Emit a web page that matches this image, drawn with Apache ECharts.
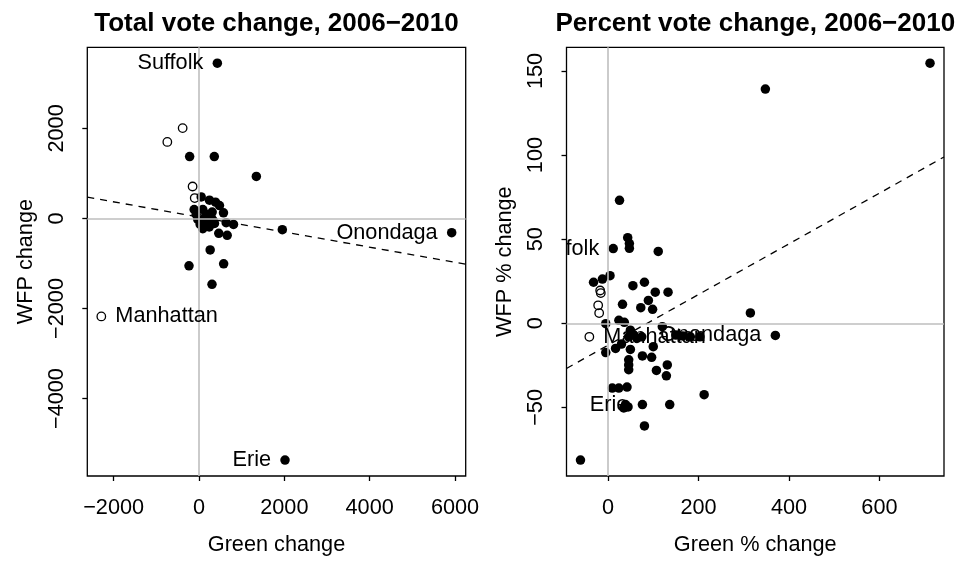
<!DOCTYPE html>
<html><head><meta charset="utf-8">
<script src="https://cdn.jsdelivr.net/npm/echarts@6/dist/echarts.min.js"></script>
<style>html,body{margin:0;padding:0;background:#fff}#c{width:966px;height:561px}</style>
</head><body><div id="c"></div>
<script>
const leftTitle = 'Total vote change, 2006\u22122010';
const rightTitle = 'Percent vote change, 2006\u22122010';
const leftXName = 'Green change', leftYName = 'WFP change';
const rightXName = 'Green % change', rightYName = 'WFP % change';
const leftXTicks = [-2000, 0, 2000, 4000, 6000];
const leftYTicks = [-4000, -2000, 0, 2000];
const rightXTicks = [0, 200, 400, 600];
const rightYTicks = [-50, 0, 50, 100, 150];

const leftFilled = [[430,3449],[-219,1375],[359,1375],[1344,934],[52,479],[246,406],[387,362],[480,287],[574,126],[-113,199],[89,199],[309,141],[183,88],[-66,88],[129,-22],[286,15],[-28,-22],[28,-132],[89,-227],[206,-95],[363,-110],[637,-95],[809,-132],[464,-331],[661,-375],[150,40],[40,-70],[240,-190],[120,-150],[330,-40],[1953,-250],[262,-698],[-234,-1051],[578,-1007],[305,-1463],[5922,-316],[2016,-5368]];
const leftOpen = [[-383,2007],[-742,1699],[-150,710],[-100,453],[-2289,-2176]];
const leftLabels = [[430,3449,'Suffolk','left'],[5922,-316,'Onondaga','left'],[-2289,-2176,'Manhattan','right'],[2016,-5368,'Erie','left']];
const leftFit = [33, -0.1676];

const rightFilled = [[711.8,154.6],[347.8,139.2],[25.4,73.1],[43.5,50.9],[47.2,47.4],[47.2,44.6],[11.5,44.4],[111,42.7],[4.4,28.3],[-12.4,26.3],[-32,24.4],[55,22.4],[80.5,24.4],[104.4,18.5],[132.7,18.5],[89.2,13.6],[32,11.3],[72.4,9.3],[98.5,8.3],[314.7,6.2],[24,1.8],[36,0.6],[-5,-0.2],[49.4,-4.1],[120,-2],[45.7,-8],[56.5,-7],[63.8,-9],[74.6,-8],[150,-7],[165,-7.5],[182,-8],[203,-8],[369.9,-7.2],[16.7,-14.9],[29.8,-12.3],[49.4,-15.5],[-5,-17.4],[100,-13.9],[76,-19.4],[96.4,-20.2],[45.7,-21.7],[45.7,-24.7],[45.7,-27.6],[107,-28],[131,-24.7],[129,-31.2],[9.4,-38.5],[23.9,-38.5],[42,-37.9],[212.5,-42.4],[38.5,-48.3],[44.2,-49.7],[34.8,-50.3],[76,-48.3],[136.4,-48.3],[80.5,-61],[-60.9,-81.3]];
const rightOpen = [[-17.4,19.5],[-16,18],[-21.8,10.7],[-19.6,6.1],[-41.3,-8]];
const rightLabels = [[11.5,44.4,'Suffolk','left'],[369.9,-7.2,'Onondaga','left'],[-41.3,-8,'Manhattan','right'],[76,-48.3,'Erie','left']];
const rightFit = [-13, 0.1506];

const FONT = '"Liberation Sans", Arial, Helvetica, sans-serif';
const FS = 21.7;

function ext(pts, i) {
  const v = pts.map(p => p[i]);
  const mn = Math.min(...v), mx = Math.max(...v), r = mx - mn;
  return [mn - 0.04 * r, mx + 0.04 * r];
}
const fmt = v => String(v).replace('-', '\u2212');

function axis(kind, gi, range, ticks, name) {
  const isY = kind === 'y';
  return {
    type: 'value', gridIndex: gi, min: range[0], max: range[1],
    name: name, nameLocation: 'middle', nameGap: isY ? 50 : 58,
    nameTextStyle: {fontSize: FS, fontFamily: FONT, color: '#000'},
    axisLine: {show: false, onZero: false},
    splitLine: {show: false},
    axisTick: {show: true, length: 5, customValues: ticks, lineStyle: {color: '#000', width: 1.3}},
    axisLabel: {customValues: ticks, formatter: fmt, fontSize: FS, fontFamily: FONT, color: '#000',
      margin: isY ? 19 : 21, rotate: isY ? 90 : 0}
  };
}

function labelSeries(gi, labels) {
  return {
    type: 'custom', xAxisIndex: gi, yAxisIndex: gi, clip: true, z: 10, silent: true,
    data: labels.map(l => [l[0], l[1]]),
    renderItem(params, api) {
      const l = labels[params.dataIndex];
      const p = api.coord([api.value(0), api.value(1)]);
      const left = l[3] === 'left';
      return {type: 'text', x: p[0] + (left ? -14 : 14), y: p[1],
        style: {text: l[2], fill: '#000', fontSize: FS, fontFamily: FONT,
          align: left ? 'right' : 'left', textAlign: left ? 'right' : 'left',
          verticalAlign: 'middle', textVerticalAlign: 'middle'}};
    }
  };
}

function fitSeries(gi, fit, xr) {
  return {
    type: 'line', xAxisIndex: gi, yAxisIndex: gi, z: 4, silent: true, symbol: 'none',
    data: [[xr[0], fit[0] + fit[1] * xr[0]], [xr[1], fit[0] + fit[1] * xr[1]]],
    lineStyle: {color: '#000', width: 1.3, type: [7, 6]},
    markLine: {silent: true, symbol: 'none', label: {show: false},
      lineStyle: {color: '#bebebe', type: 'solid', width: 1.6},
      data: [{xAxis: 0}, {yAxis: 0}]}
  };
}

function pts(gi, data, open) {
  return {
    type: 'scatter', xAxisIndex: gi, yAxisIndex: gi, z: 2, silent: true,
    symbol: 'circle', symbolSize: open ? 8.5 : 9.5, data: data,
    itemStyle: open ? {color: 'rgba(0,0,0,0)', borderColor: '#000', borderWidth: 1.3, opacity: 1}
                    : {color: '#000', opacity: 1}
  };
}

const lxr = ext(leftFilled.concat(leftOpen), 0), lyr = ext(leftFilled.concat(leftOpen), 1);
const rxr = ext(rightFilled.concat(rightOpen), 0), ryr = ext(rightFilled.concat(rightOpen), 1);

const chart = echarts.init(document.getElementById('c'), null, {renderer: 'canvas'});
chart.setOption({
  animation: false,
  backgroundColor: '#fff',
  title: [
    {text: leftTitle, left: 276.5, top: 11, textAlign: 'center', padding: 0,
      textStyle: {fontSize: 26, fontWeight: 'bold', fontFamily: FONT, color: '#000'}},
    {text: rightTitle, left: 755.3, top: 11, textAlign: 'center', padding: 0,
      textStyle: {fontSize: 26, fontWeight: 'bold', fontFamily: FONT, color: '#000'}}
  ],
  grid: [
    {left: 87.3, right: 966 - 465.7, top: 47.3, bottom: 561 - 480, show: true, borderColor: '#000', borderWidth: 1.3, backgroundColor: 'transparent'},
    {left: 566.5, right: 966 - 944, top: 47.3, bottom: 561 - 480, show: true, borderColor: '#000', borderWidth: 1.3, backgroundColor: 'transparent'}
  ],
  xAxis: [axis('x', 0, lxr, leftXTicks, leftXName), axis('x', 1, rxr, rightXTicks, rightXName)],
  yAxis: [axis('y', 0, lyr, leftYTicks, leftYName), axis('y', 1, ryr, rightYTicks, rightYName)],
  series: [
    pts(0, leftFilled, false), pts(0, leftOpen, true), fitSeries(0, leftFit, lxr), labelSeries(0, leftLabels),
    pts(1, rightFilled, false), pts(1, rightOpen, true), fitSeries(1, rightFit, rxr), labelSeries(1, rightLabels)
  ]
});
</script></body></html>
